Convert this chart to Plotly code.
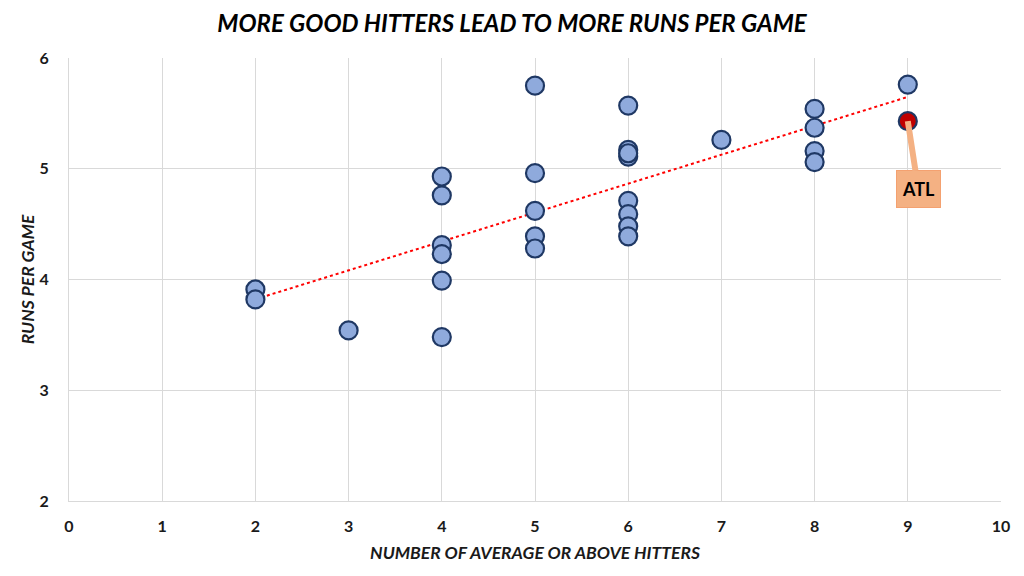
import numpy as np
import plotly.graph_objects as go

# Data
hitters = [2, 2, 3, 4, 4, 4, 4, 4, 4, 5, 5, 5, 5, 5,
           6, 6, 6, 6, 6, 6, 6, 6, 7, 8, 8, 8, 8, 9]
runs = [3.91, 3.82, 3.54, 4.93, 4.76, 4.31, 4.23, 3.99, 3.48,
        5.75, 4.96, 4.62, 4.39, 4.28,
        5.57, 5.17, 5.11, 4.71, 4.59, 4.48, 4.39, 5.14,
        5.26, 5.54, 5.37, 5.16, 5.06, 5.76]
atl_x = [9]
atl_y = [5.43]
atl_label = "ATL"

x_ticks = list(range(0, 11))
y_ticks = [2, 3, 4, 5, 6]

title_text = "MORE GOOD HITTERS LEAD TO MORE RUNS PER GAME"
x_title = "NUMBER OF AVERAGE OR ABOVE HITTERS"
y_title = "RUNS PER GAME"

# Linear trendline fitted to all teams
all_x = np.array(hitters + atl_x, dtype=float)
all_y = np.array(runs + atl_y, dtype=float)
slope, intercept = np.polyfit(all_x, all_y, 1)
tx = np.array([all_x.min(), all_x.max()])
ty = slope * tx + intercept

FONT = "Lato"
fig = go.Figure()

fig.add_trace(go.Scatter(
    x=tx, y=ty, mode="lines",
    line=dict(color="#ff0000", width=2, dash="dot"),
    hoverinfo="skip", showlegend=False,
))
fig.add_trace(go.Scatter(
    x=hitters, y=runs, mode="markers",
    marker=dict(size=18, color="#8faadc", line=dict(color="#1f3864", width=2.2)),
    showlegend=False,
))
fig.add_trace(go.Scatter(
    x=atl_x, y=atl_y, mode="markers",
    marker=dict(size=18, color="#c00000", line=dict(color="#1f3864", width=2.2)),
    showlegend=False,
))

fig.add_annotation(
    x=atl_x[0], y=atl_y[0], xref="x", yref="y",
    text="<b>" + atl_label + "</b>",
    showarrow=True, arrowhead=0, arrowwidth=6, arrowcolor="#f4b183",
    ax=10.5, ay=68, standoff=0,
    bgcolor="#f4b183", bordercolor="#f4a170", borderwidth=1,
    width=41, height=34,
    font=dict(family=FONT, size=18, color="#000000"),
)

fig.update_layout(
    width=1024, height=576,
    margin=dict(l=61, r=31, t=50, b=83),
    paper_bgcolor="white", plot_bgcolor="white",
    title=dict(
        text="<b><i>" + title_text + "</i></b>",
        x=(1001 + 69) / 2 / 1024 - 8 / 1024 + (512 - 535) / 1024, xanchor="center",
        y=1 - 16 / 576, yanchor="middle",
        font=dict(family=FONT, size=24, color="#000000"),
    ),
    font=dict(family=FONT),
)

fig.update_xaxes(
    range=[0, 10], tickvals=x_ticks,
    ticktext=["<b>%d</b>" % v for v in x_ticks],
    tickfont=dict(family=FONT, size=16, color="#1a1a1a"),
    showgrid=True, gridcolor="#d9d9d9", gridwidth=1,
    showline=True, linecolor="#d9d9d9", linewidth=1,
    zeroline=False, ticks="", ticklabelstandoff=11,
    title=dict(text="<b><i>" + x_title + "</i></b>",
               font=dict(family=FONT, size=17.5, color="#1a1a1a"), standoff=12),
)
fig.update_yaxes(
    range=[2, 6], tickvals=y_ticks,
    ticktext=["<b>%d</b>" % v for v in y_ticks],
    tickfont=dict(family=FONT, size=16, color="#1a1a1a"),
    showgrid=True, gridcolor="#d9d9d9", gridwidth=1,
    showline=True, linecolor="#d9d9d9", linewidth=1,
    zeroline=False, ticks="", ticklabelstandoff=16,
    title=dict(text="<b><i>" + y_title + "</i></b>",
               font=dict(family=FONT, size=17.5, color="#1a1a1a"), standoff=0),
)

fig.write_html("out.html")
